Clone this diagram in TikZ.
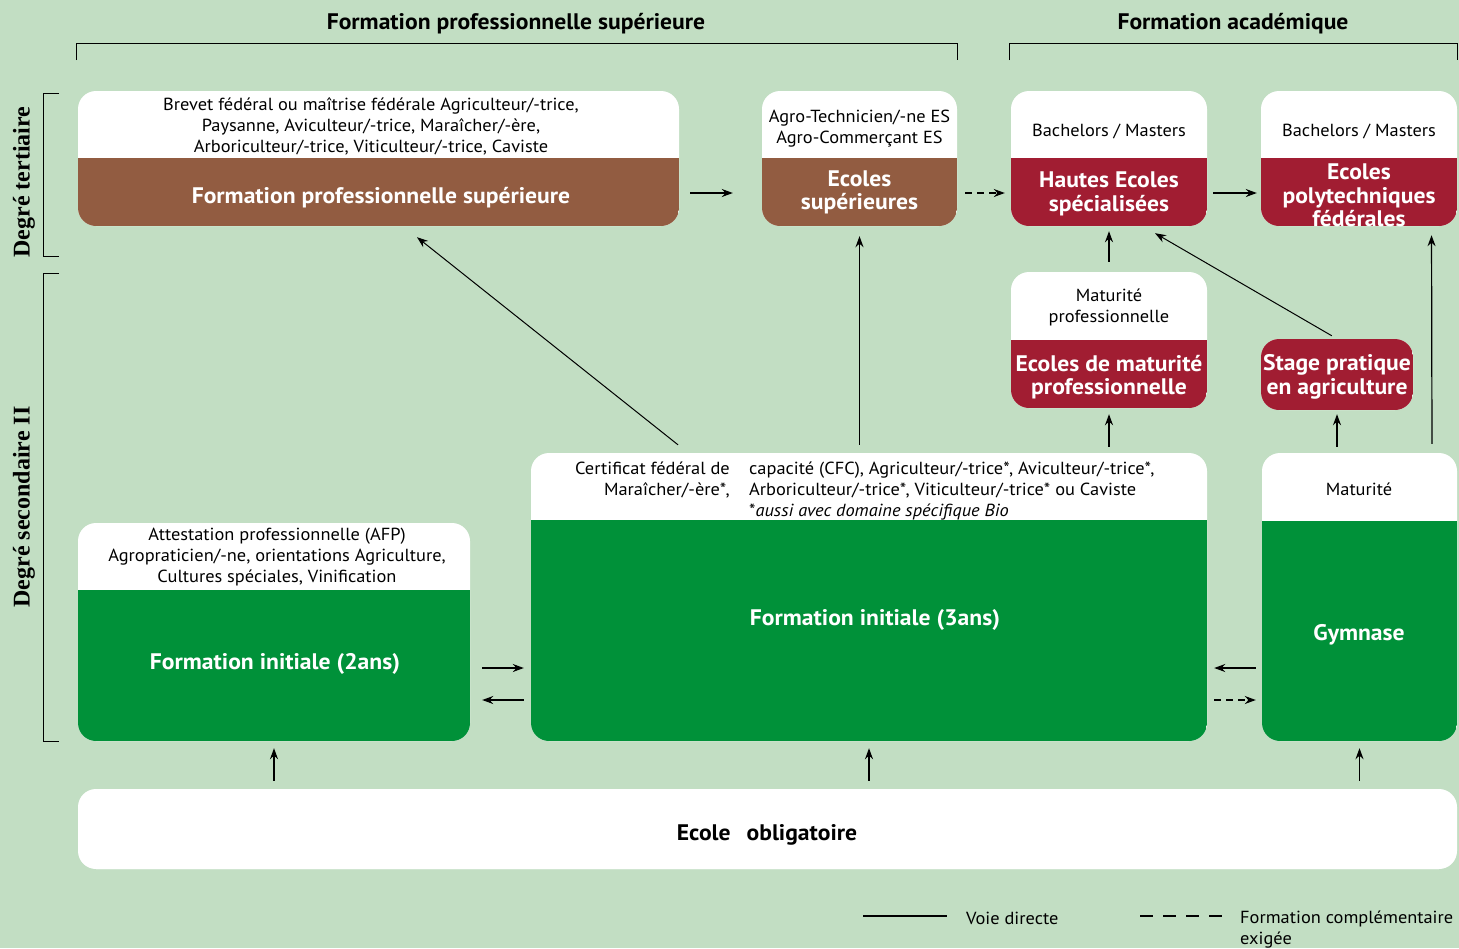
\documentclass[tikz,border=0pt]{standalone}
\usepackage{fontspec}
\setmainfont[FakeStretch=1.05]{PT Sans}
\newfontfamily\degfont{Liberation Serif}
\usetikzlibrary{arrows.meta,calc}
\definecolor{bg}{HTML}{C2DEC3}
\definecolor{brn}{HTML}{925C41}
\definecolor{crim}{HTML}{A11D32}
\definecolor{grn}{HTML}{009139}
\tikzset{
  box/.style n args={4}{rectangle, rounded corners=18pt, fill=white, draw=none,
    minimum width=#1, minimum height=#2, inner sep=0pt,
    path picture={\fill[#3, sharp corners] (path picture bounding box.south west) rectangle ([yshift=#4]path picture bounding box.south east);}},
  small/.style={font=\fontsize{17.5}{21}\selectfont, align=center, inner sep=0pt, yshift=-2pt},
  big/.style={font=\fontsize{22.5}{23.5}\selectfont\bfseries, text=white, align=center, inner sep=0pt, yshift=-2.5pt},
  head/.style={font=\fontsize{22.5}{24}\selectfont\bfseries, inner sep=0pt, yshift=-2.5pt},
  deg/.style={font=\degfont\fontsize{24}{26}\selectfont\bfseries, rotate=90, inner sep=0pt},
  arr/.style={-{Stealth[length=11pt,width=8pt]}, line width=1.2pt},
  thin/.style={line width=1.1pt},
  brk/.style={line width=1pt},
}
\begin{document}
\begin{tikzpicture}[x=1pt,y=-1pt]
\fill[bg] (0,0) rectangle (1459,948);
\useasboundingbox (0,0) rectangle (1459,948);

% headings and brackets
\node[head] (h1) at (516,21) {Formation professionnelle supérieure};
\node[head] (h2) at (1233,21) {Formation académique};
\draw[brk] (76,60) -- (76,43) -- (957,43) -- (957,60);
\draw[brk] (1009,60) -- (1009,43) -- (1457,43) -- (1457,60);
\draw[brk] (59,93) -- (43,93) -- (43,256) -- (59,256);
\draw[brk] (59,273) -- (43,273) -- (43,741) -- (59,741);
\node[deg] (d1) at (24,182) {Degré tertiaire};
\node[deg] (d2) at (24,507) {Degré secondaire II};

% boxes
\node[box={601pt}{135pt}{brn}{68pt}] (fps) at (378.5,158.5) {};
\node[box={195pt}{135pt}{brn}{68pt}] (es) at (859.5,158.5) {};
\node[box={196pt}{135pt}{crim}{68pt}] (hes) at (1109,158.5) {};
\node[box={196pt}{135pt}{crim}{68pt}] (epf) at (1359,158.5) {};
\node[box={196pt}{136pt}{crim}{68pt}] (mp) at (1109,340) {};
\node[box={152pt}{71pt}{crim}{71pt}] (stage) at (1337,374.5) {};
\node[box={392pt}{218pt}{grn}{151pt}] (fi2) at (274,632) {};
\node[box={676pt}{288pt}{grn}{221pt}] (fi3) at (869,597) {};
\node[box={195pt}{288pt}{grn}{220pt}] (gym) at (1359.5,597) {};
\node[box={1379pt}{80pt}{white}{0pt}] (eo) at (767.5,829) {};

% texts
\node[small] at (371,124) {Brevet fédéral ou maîtrise fédérale Agriculteur/-trice,\\Paysanne, Aviculteur/-trice, Maraîcher/-ère,\\Arboriculteur/-trice, Viticulteur/-trice, Caviste};
\node[big] at (381,195) {Formation professionnelle supérieure};
\node[small] at (859.5,127) {Agro-Technicien/-ne ES\\Agro-Commerçant ES};
\node[big] at (859.5,190) {Ecoles\\supérieures};
\node[small] at (1109,129) {Bachelors / Masters};
\node[big] at (1109,191.5) {Hautes Ecoles\\spécialisées};
\node[small] at (1359,129) {Bachelors / Masters};
\node[big] at (1359,193) {Ecoles\\polytechniques\\fédérales};
\node[small] at (1109,305) {Maturité\\professionnelle};
\node[big] at (1109,374.5) {Ecoles de maturité\\professionnelle};
\node[big] at (1337,374.5) {Stage pratique\\en agriculture};
\node[small] at (277,555.5) {Attestation professionnelle (AFP)\\Agropraticien/-ne, orientations Agriculture,\\Cultures spéciales, Vinification};
\node[big] at (275,661) {Formation initiale (2ans)};
\node[small, align=right, anchor=north east] at (730,460) {Certificat fédéral de\\Maraîcher/-ère*,};
\node[small, align=left, anchor=north west] at (749,459.5) {capacité (CFC), Agriculteur/-trice*, Aviculteur/-trice*,\\Arboriculteur/-trice*, Viticulteur/-trice* ou Caviste\\*\textit{aussi avec domaine spécifique Bio}};
\node[big] at (875,617) {Formation initiale (3ans)};
\node[small] at (1359,487) {Maturité};
\node[big] at (1359,632) {Gymnase};
\node[big, text=black] at (767,832) {Ecole\hspace{16pt}obligatoire};

% connectors
\draw[arr] ([shift={(11,34.5)}]fps.east) -- ([shift={(-29,34.5)}]es.west);
\draw[arr, dashed, dash pattern=on 7pt off 5pt] ([shift={(8,34.5)}]es.east) -- ([shift={(-6,34.5)}]hes.west);
\draw[arr] ([shift={(6,34.5)}]hes.east) -- ([shift={(-4,34.5)}]epf.west);
\draw[arr, line width=1pt] ([shift={(-191,-8)}]fi3.north) -- ([shift={(38.5,11)}]fps.south);
\draw[arr, shorten <=8pt, shorten >=10pt] (es.south |- fi3.north) -- (es.south);
\draw[arr, shorten <=10pt, shorten >=5pt] (mp.north) -- (hes.south);
\draw[arr, line width=1pt, shorten <=6pt] (stage.north) -- ([shift={(46,7)}]hes.south);
\draw[arr, shorten <=9pt, shorten >=9pt] ([xshift=72.5pt]gym.north) -- ([xshift=72.5pt]epf.south);
\draw[arr, shorten <=6pt, shorten >=6pt] (mp.south |- fi3.north) -- (mp.south);
\draw[arr, shorten <=6pt, shorten >=4pt] (stage.south |- gym.north) -- (stage.south);
\draw[arr] ([shift={(12,36)}]fi2.east) -- ([shift={(-7,71)}]fi3.west);
\draw[arr] ([shift={(-7,103)}]fi3.west) -- ([shift={(12,68)}]fi2.east);
\draw[arr] ([shift={(-6,71)}]gym.west) -- ([shift={(7,71)}]fi3.east);
\draw[arr, dashed, dash pattern=on 7pt off 5pt] ([shift={(7,103)}]fi3.east) -- ([shift={(-6,103)}]gym.west);
\draw[arr, shorten <=8pt, shorten >=7pt] (fi2.south |- eo.north) -- (fi2.south);
\draw[arr, shorten <=8pt, shorten >=7pt] (fi3.south |- eo.north) -- (fi3.south);
\draw[arr, shorten <=8pt, shorten >=7pt] (gym.south |- eo.north) -- (gym.south);

% legend
\draw[thin] (863,916) -- (947,916);
\node[small, anchor=west] (l1) at (966,916) {Voie directe};
\draw[thin, dash pattern=on 13pt off 10pt] (1140,916) -- (1224,916);
\node[small, anchor=north west, align=left] (l2) at (1240,909) {Formation complémentaire\\exigée};
\end{tikzpicture}
\end{document}
